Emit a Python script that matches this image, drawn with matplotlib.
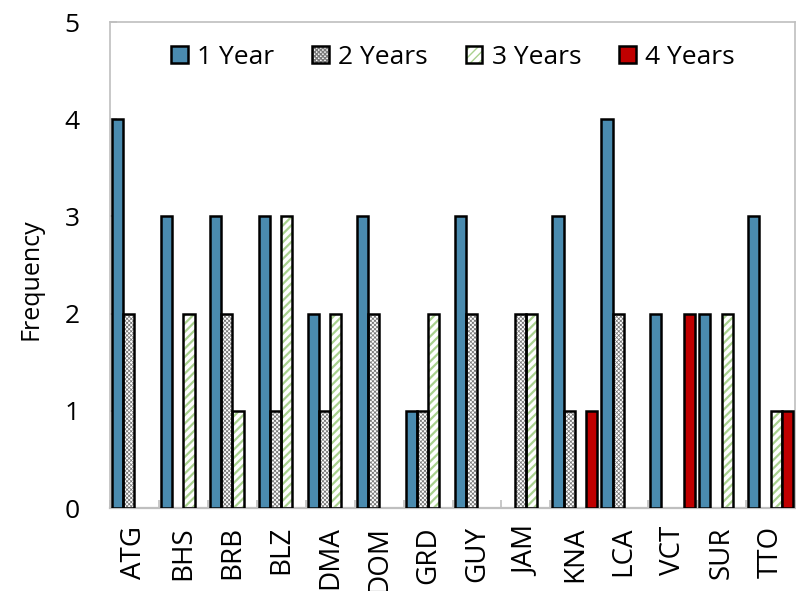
import numpy as np
import matplotlib
matplotlib.use("Agg")
import matplotlib.pyplot as plt
from matplotlib.patches import Patch
from matplotlib.legend_handler import HandlerTuple

# Caribbean economies and how often each spell length occurs
countries = ["ATG", "BHS", "BRB", "BLZ", "DMA", "DOM", "GRD",
             "GUY", "JAM", "KNA", "LCA", "VCT", "SUR", "TTO"]
one_year   = [4, 3, 3, 3, 2, 3, 1, 3, 0, 3, 4, 2, 2, 3]
two_years  = [2, 0, 2, 1, 1, 2, 1, 2, 2, 1, 2, 0, 0, 0]
three_years = [0, 2, 1, 3, 2, 0, 2, 0, 2, 0, 0, 0, 2, 1]
four_years = [0, 0, 0, 0, 0, 0, 0, 0, 0, 1, 0, 2, 0, 1]
series_names = ["1 Year", "2 Years", "3 Years", "4 Years"]
y_ticks = [0, 1, 2, 3, 4, 5]

plt.rcParams["font.family"] = ["Open Sans", "DejaVu Sans"]
FS = 19

fig = plt.figure(figsize=(7.96, 5.91), dpi=100)
ax = fig.add_axes([110 / 796, 1 - 508 / 591, 685 / 796, 486 / 591])

x = np.arange(len(countries))
w = 0.229
EDGE = 1.8
styles = [
    dict(face="#4A8BAF", hatch=None, hcolor=None, hlw=1.0),
    dict(face="white", hatch="xxxxxxxx", hcolor="#7a7a7a", hlw=0.55),
    dict(face="white", hatch="////", hcolor="#A9D18E", hlw=1.6),
    dict(face="#C00000", hatch=None, hcolor=None, hlw=1.0),
]
data = [one_year, two_years, three_years, four_years]
handles = []
for i, (vals, st) in enumerate(zip(data, styles)):
    vals = np.asarray(vals, dtype=float)
    pos = x + (i - 1.5) * w
    edge_lw = np.where(vals > 0, EDGE, 0.0)
    if st["hatch"]:
        with plt.rc_context({"hatch.linewidth": st["hlw"]}):
            fill = ax.bar(pos, vals, w, color=st["face"], edgecolor=st["hcolor"],
                          hatch=st["hatch"], linewidth=0, zorder=2)
            for p in fill:
                if hasattr(p, "set_hatch_linewidth"):
                    p.set_hatch_linewidth(st["hlw"])
        ax.bar(pos, vals, w, fill=False, edgecolor="black",
               linewidth=edge_lw, zorder=3)
        with plt.rc_context({"hatch.linewidth": st["hlw"]}):
            hp = Patch(facecolor=st["face"], edgecolor=st["hcolor"],
                       hatch=st["hatch"], linewidth=0)
            if hasattr(hp, "set_hatch_linewidth"):
                hp.set_hatch_linewidth(st["hlw"])
        handles.append((hp, Patch(fill=False, edgecolor="black", linewidth=EDGE)))
    else:
        ax.bar(pos, vals, w, color=st["face"], edgecolor="black",
               linewidth=edge_lw, zorder=3)
        handles.append(Patch(facecolor=st["face"], edgecolor="black", linewidth=EDGE))

ax.set_xlim(-0.5, len(countries) - 0.5)
ax.set_ylim(0, 5)
ax.set_yticks(y_ticks)
ax.set_yticklabels([str(t) for t in y_ticks], fontsize=FS)
ax.set_xticks(x)
ax.set_xticklabels(countries, rotation=90, fontsize=20)
ax.set_xticks(np.arange(len(countries) + 1) - 0.5, minor=True)

grey = "#BFBFBF"
for s in ax.spines.values():
    s.set_color(grey)
    s.set_linewidth(1.2)
ax.spines["bottom"].set_linewidth(1.6)
ax.tick_params(axis="x", which="major", length=0, pad=13)
ax.tick_params(axis="x", which="minor", direction="in", length=6, color=grey, width=1.2)
ax.tick_params(axis="y", direction="in", length=5, color=grey, width=1.2, pad=22)
ax.set_ylabel("Frequency", fontsize=18)
ax.yaxis.set_label_coords(-0.097, 0.47)

fig.legend(handles, series_names, loc="center", ncol=4, frameon=False,
           bbox_to_anchor=(453 / 796, 1 - 57 / 591), fontsize=FS,
           handlelength=0.62, handleheight=0.62, handletextpad=0.35,
           columnspacing=1.45, handler_map={tuple: HandlerTuple(ndivide=1)})

fig.savefig("out.png", dpi=100)
